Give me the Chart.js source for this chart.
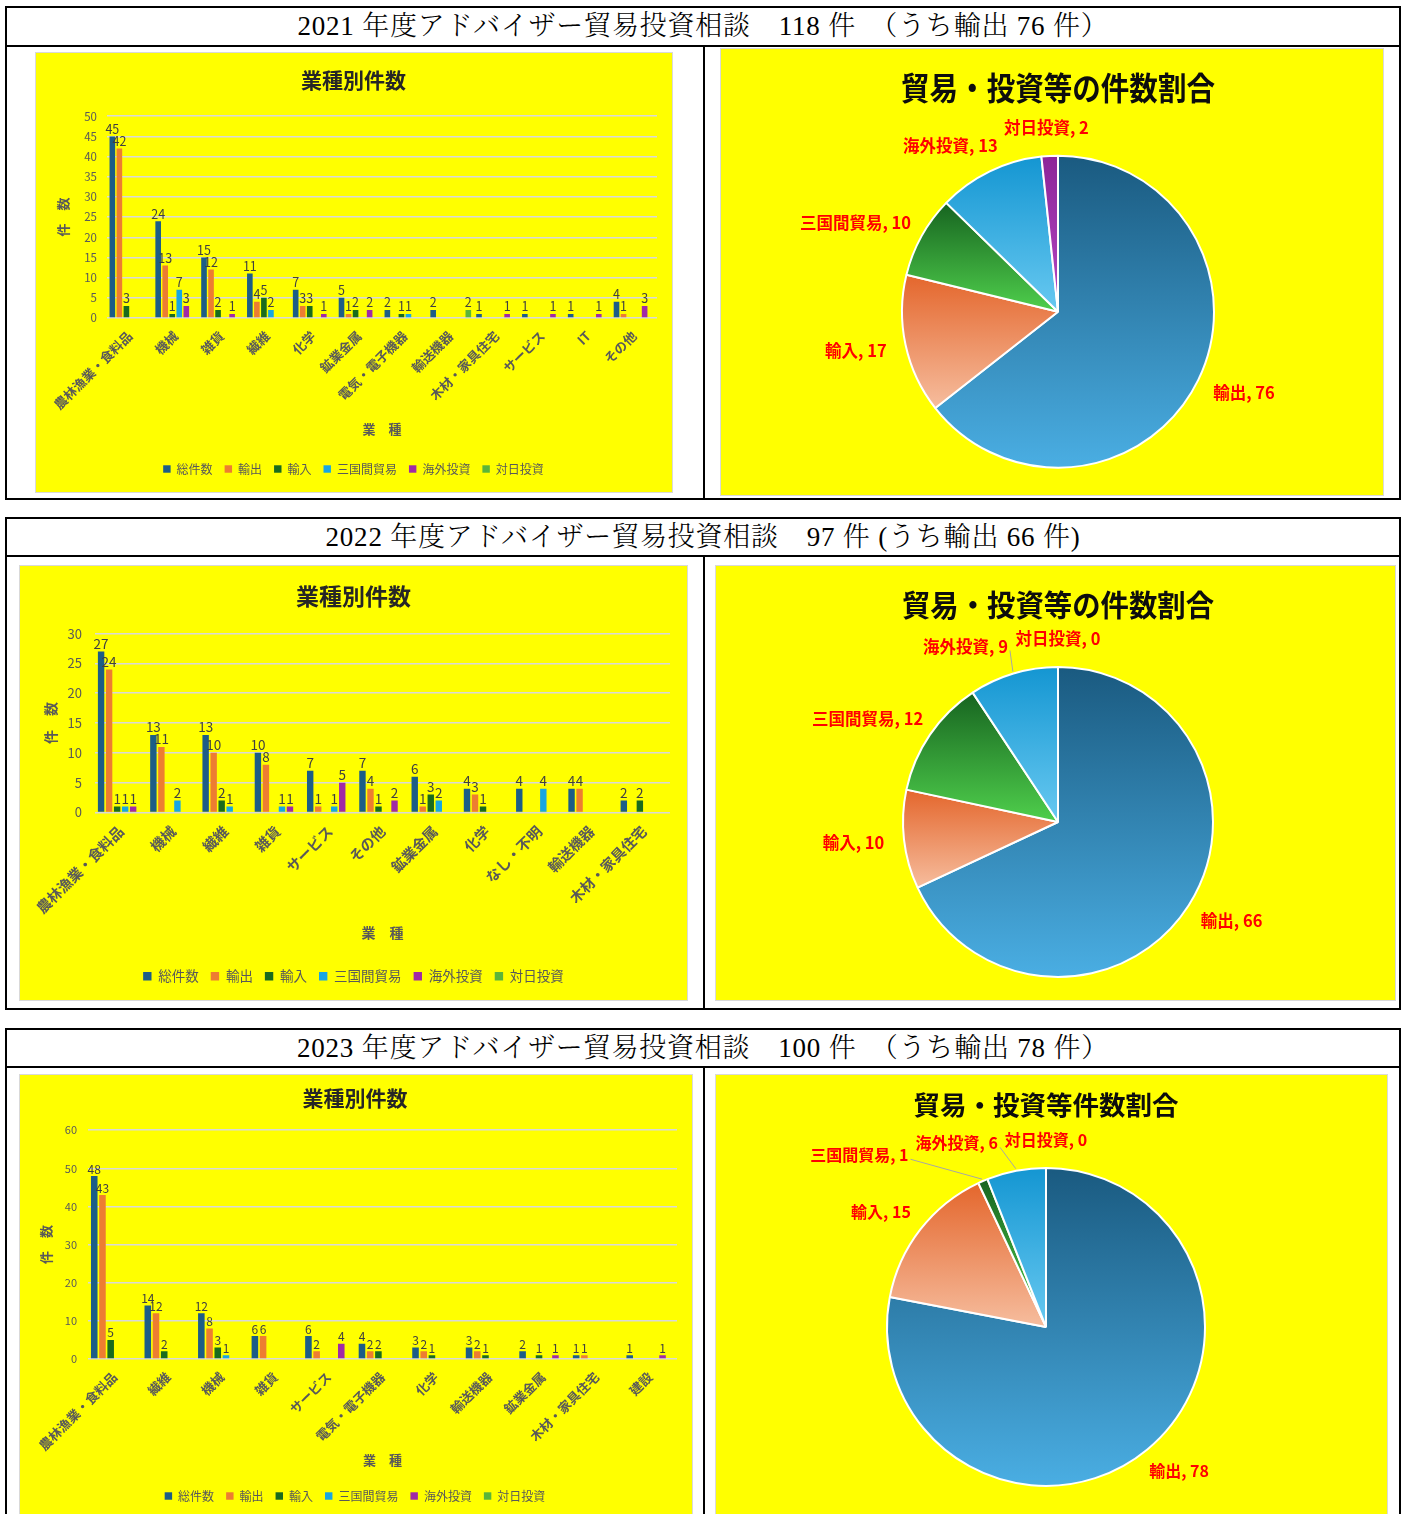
<!DOCTYPE html>
<html lang="ja">
<head>
<meta charset="utf-8">
<script src="https://cdn.jsdelivr.net/npm/chart.js@4.4.1/dist/chart.umd.min.js"></script>
<style>
  body { margin: 0; background: #fff; width: 1407px; height: 1514px; overflow: hidden; position: relative; }
  .frame { position: absolute; border: 2px solid #000; box-sizing: border-box; }
  .head { position: absolute; left: 0; right: 0; top: 0; border-bottom: 2px solid #000; text-align: center;
          font-family: "Liberation Serif", "Noto Serif CJK JP", "Noto Sans CJK JP", serif; font-weight: 300;
          font-size: 27px; letter-spacing: 0.8px; color: #000; }
  .divider { position: absolute; width: 2px; background: #000; }
  .panel { position: absolute; background: #ffff00; outline: 1px solid #d9d9d9; }
  .panel canvas { position: absolute; left: 0; top: 0; }
</style>
</head>
<body>

<div class="frame" style="left:5px;top:6px;width:1396px;height:494px">
  <div class="head" style="height:37px;line-height:37px">2021 年度アドバイザー貿易投資相談　118 件　（うち輸出 76 件）</div>
  <div class="divider" style="left:696px;top:37px;bottom:0"></div>
</div>
<div class="frame" style="left:5px;top:517px;width:1396px;height:493px">
  <div class="head" style="height:36px;line-height:36px">2022 年度アドバイザー貿易投資相談　97 件 (うち輸出 66 件)</div>
  <div class="divider" style="left:696px;top:36px;bottom:0"></div>
</div>
<div class="frame" style="left:5px;top:1028px;width:1396px;height:520px">
  <div class="head" style="height:36px;line-height:36px">2023 年度アドバイザー貿易投資相談　100 件　（うち輸出 78 件）</div>
  <div class="divider" style="left:696px;top:36px;bottom:0"></div>
</div>

<div class="panel" style="left:36px;top:53px;width:636px;height:439px"><canvas id="bar2021" width="636" height="439"></canvas></div>
<div class="panel" style="left:721px;top:49px;width:662px;height:446px"><canvas id="pie2021" width="662" height="446"></canvas></div>
<div class="panel" style="left:20px;top:566px;width:667px;height:434px"><canvas id="bar2022" width="667" height="434"></canvas></div>
<div class="panel" style="left:716px;top:566px;width:679px;height:434px"><canvas id="pie2022" width="679" height="434"></canvas></div>
<div class="panel" style="left:20px;top:1075px;width:672px;height:445px"><canvas id="bar2023" width="672" height="445"></canvas></div>
<div class="panel" style="left:716px;top:1075px;width:671px;height:445px"><canvas id="pie2023" width="671" height="445"></canvas></div>

<script>
const FONT = '"Noto Sans CJK JP", "Noto Sans", sans-serif';
Chart.defaults.font.family = FONT;

// series of the bar charts
const seriesNames = ['総件数', '輸出', '輸入', '三国間貿易', '海外投資', '対日投資'];
const seriesColors = ['#1c5d87', '#ed7d31', '#196b1e', '#17a6e2', '#a02aa6', '#5ab53a'];

// 2021
const cats2021 = ['農林漁業・食料品', '機械', '雑貨', '繊維', '化学', '鉱業金属', '電気・電子機器', '輸送機器', '木材・家具住宅', 'サービス', 'IT', 'その他'];
const total2021   = [45, 24, 15, 11, 7, 5, 2, 2, 1, 1, 1, 4];
const export2021  = [42, 13, 12, 4, 3, 1, 0, 0, 0, 0, 0, 1];
const import2021  = [3, 1, 2, 5, 3, 2, 1, 0, 0, 0, 0, 0];
const triang2021  = [0, 7, 0, 2, 0, 0, 1, 0, 0, 0, 0, 0];
const outward2021 = [0, 3, 1, 0, 1, 2, 0, 0, 1, 1, 1, 3];
const inward2021  = [0, 0, 0, 0, 0, 0, 0, 2, 0, 0, 0, 0];

// 2022
const cats2022 = ['農林漁業・食料品', '機械', '繊維', '雑貨', 'サービス', 'その他', '鉱業金属', '化学', 'なし・不明', '輸送機器', '木材・家具住宅'];
const total2022   = [27, 13, 13, 10, 7, 7, 6, 4, 4, 4, 2];
const export2022  = [24, 11, 10, 8, 1, 4, 1, 3, 0, 4, 0];
const import2022  = [1, 0, 2, 0, 0, 1, 3, 1, 0, 0, 2];
const triang2022  = [1, 2, 1, 1, 1, 0, 2, 0, 4, 0, 0];
const outward2022 = [1, 0, 0, 1, 5, 2, 0, 0, 0, 0, 0];
const inward2022  = [0, 0, 0, 0, 0, 0, 0, 0, 0, 0, 0];

// 2023
const cats2023 = ['農林漁業・食料品', '繊維', '機械', '雑貨', 'サービス', '電気・電子機器', '化学', '輸送機器', '鉱業金属', '木材・家具住宅', '建設'];
const total2023   = [48, 14, 12, 6, 6, 4, 3, 3, 2, 1, 1];
const export2023  = [43, 12, 8, 6, 2, 2, 2, 2, 0, 1, 0];
const import2023  = [5, 2, 3, 0, 0, 2, 1, 1, 1, 0, 0];
const triang2023  = [0, 0, 1, 0, 0, 0, 0, 0, 0, 0, 0];
const outward2023 = [0, 0, 0, 0, 4, 0, 0, 0, 1, 0, 1];
const inward2023  = [0, 0, 0, 0, 0, 0, 0, 0, 0, 0, 0];

// pies
const pieLabels = ['輸出', '輸入', '三国間貿易', '海外投資', '対日投資'];
const pie2021 = [76, 17, 10, 13, 2];
const pie2022 = [66, 10, 12, 9, 0];
const pie2023 = [78, 15, 1, 6, 0];
const pieGradients = [
  ['#1a5a80', '#4aaee3'],
  ['#e4662c', '#f6bd9e'],
  ['#176420', '#4fcf4c'],
  ['#1496d2', '#68c9f1'],
  ['#8c2598', '#b447c4']
];

// value labels above bars (no datalabels plugin offline)
const barValueLabels = {
  id: 'barValueLabels',
  afterDatasetsDraw(chart, args, opts) {
    const ctx = chart.ctx;
    ctx.save();
    ctx.font = opts.size + 'px ' + FONT;
    ctx.fillStyle = '#404040';
    ctx.textAlign = 'center';
    ctx.textBaseline = 'bottom';
    chart.data.datasets.forEach((ds, di) => {
      chart.getDatasetMeta(di).data.forEach((bar, i) => {
        if (!ds.data[i]) return;
        ctx.fillText(String(ds.data[i]), bar.x, bar.y - 1);
      });
    });
    ctx.restore();
  }
};

function sliceExtent(p) {
  const ys = [p.y, p.y + p.outerRadius * Math.sin(p.startAngle), p.y + p.outerRadius * Math.sin(p.endAngle)];
  for (let k = -3; k <= 4; k++) {
    const a = -Math.PI / 2 + k * Math.PI;
    if (a > p.startAngle && a < p.endAngle) ys.push(p.y + p.outerRadius * Math.sin(a));
  }
  return { top: Math.min(...ys), bottom: Math.max(...ys) };
}

// per-slice vertical gradient + outside labels
const pieDecor = {
  id: 'pieDecor',
  beforeDatasetsDraw(chart, args, opts) {
    const ctx = chart.ctx;
    chart.getDatasetMeta(0).data.forEach((arc, i) => {
      const p = arc.getProps(['x', 'y', 'startAngle', 'endAngle', 'outerRadius']);
      const e = sliceExtent(p);
      const g = ctx.createLinearGradient(0, e.top, 0, e.bottom + 0.01);
      g.addColorStop(0, pieGradients[i][0]);
      g.addColorStop(1, pieGradients[i][1]);
      arc.options.backgroundColor = g;
    });
  },
  afterDatasetsDraw(chart, args, opts) {
    const ctx = chart.ctx;
    const meta = chart.getDatasetMeta(0);
    const vals = chart.data.datasets[0].data;
    const h = opts.size;
    ctx.save();
    ctx.font = 'bold ' + opts.size + 'px ' + FONT;
    ctx.textAlign = 'center';
    ctx.textBaseline = 'middle';
    const placed = [];
    for (let i = meta.data.length - 1; i >= 0; i--) {
      const p = meta.data[i].getProps(['x', 'y', 'startAngle', 'endAngle', 'outerRadius']);
      const mid = (p.startAngle + p.endAngle) / 2;
      const dx = Math.cos(mid), dy = Math.sin(mid);
      const text = chart.data.labels[i] + ', ' + vals[i];
      const w = ctx.measureText(text).width;
      const ax = p.x + dx * (p.outerRadius + opts.gap), ay = p.y + dy * (p.outerRadius + opts.gap);
      let cx = ax + dx * w / 2;
      const cy = ay + dy * h / 2;
      const cx0 = cx;
      const step = dx < -0.01 ? -2 : 2;
      let guard = 0;
      while (placed.some(b => Math.abs(b.cx - cx) < (b.w + w) / 2 + 6 && Math.abs(b.cy - cy) < h + 4) && guard++ < 300) cx += step;
      placed.push({ cx, cy, w });
      if (Math.abs(cx - cx0) > 15) {
        const ex = p.x + dx * (p.outerRadius + 2), ey = p.y + dy * (p.outerRadius + 2);
        const sx = cx + (step < 0 ? w / 2 + 2 : -w / 2 - 2);
        ctx.strokeStyle = '#a6a6a6';
        ctx.lineWidth = 1;
        ctx.beginPath();
        ctx.moveTo(sx, cy + 4);
        ctx.lineTo(ex, ey);
        ctx.stroke();
      }
      ctx.fillStyle = '#ff0000';
      ctx.fillText(text, cx, cy);
    }
    ctx.restore();
  }
};

function barChart(id, cats, values, f) {
  new Chart(document.getElementById(id), {
    type: 'bar',
    data: {
      labels: cats,
      datasets: seriesNames.map((n, k) => ({
        label: n, data: values[k], backgroundColor: seriesColors[k],
        barPercentage: 0.8, categoryPercentage: 0.92
      }))
    },
    options: {
      responsive: false,
      animation: false,
      devicePixelRatio: 1,
      layout: { padding: { left: f.padLeft, right: f.padRight, top: 0, bottom: f.padBottom } },
      plugins: {
        title: { display: true, text: '業種別件数', color: '#262626',
                 font: { size: f.title, weight: 'bold' }, padding: { top: f.titleTop, bottom: f.titleBottom } },
        legend: { position: 'bottom',
                  labels: { boxWidth: f.legend * 0.62, boxHeight: f.legend * 0.62, color: '#595959',
                            font: { size: f.legend }, padding: 12 } },
        tooltip: { enabled: false },
        barValueLabels: { size: f.value }
      },
      scales: {
        x: {
          grid: { display: false }, border: { display: false },
          ticks: { color: '#595959', font: { size: f.tick, weight: 'bold' }, minRotation: 45, maxRotation: 45, autoSkip: false, padding: 2 },
          title: { display: true, text: '業　種', color: '#595959', font: { size: f.axisTitle, weight: 'bold' },
                   padding: { top: 0, bottom: f.xTitleBottom } },
          afterFit: s => { s.height = f.xHeight; }
        },
        y: {
          min: 0, max: f.max,
          ticks: { stepSize: f.step, color: '#595959', font: { size: f.ytick }, padding: f.ytickPad },
          grid: { color: '#d9d9d9', lineWidth: 1.5, drawTicks: false },
          border: { display: false },
          title: { display: true, text: '件　数', color: '#595959', font: { size: f.axisTitle, weight: 'bold' },
                   padding: { top: 5, bottom: 0 } },
          afterFit: s => { s.width = f.yWidth; }
        }
      }
    },
    plugins: [barValueLabels]
  });
}

function pieChart(id, title, values, f) {
  new Chart(document.getElementById(id), {
    type: 'pie',
    data: {
      labels: pieLabels,
      datasets: [{ data: values, backgroundColor: pieGradients.map(g => g[0]), borderColor: '#ffffff', borderWidth: 2 }]
    },
    options: {
      responsive: false,
      animation: false,
      devicePixelRatio: 1,
      layout: { padding: { left: f.padLeft, right: f.padRight, top: 0, bottom: f.padBottom } },
      plugins: {
        title: { display: true, text: title, color: '#0d0d0d', font: { size: f.title, weight: 'bold' },
                 padding: { top: f.titleTop, bottom: f.titleBottom } },
        legend: { display: false },
        tooltip: { enabled: false },
        pieDecor: { size: f.label, gap: 20 }
      }
    },
    plugins: [pieDecor]
  });
}

barChart('bar2021', cats2021, [total2021, export2021, import2021, triang2021, outward2021, inward2021], {
  max: 50, step: 5, title: 21, titleTop: 14, titleBottom: 24, tick: 13, ytick: 11.5, ytickPad: 10, value: 12.5,
  legend: 12, axisTitle: 13, yWidth: 57, padLeft: 14, padRight: 15, padBottom: 7, xHeight: 133, xTitleBottom: 14
});
barChart('bar2022', cats2022, [total2022, export2022, import2022, triang2022, outward2022, inward2022], {
  max: 30, step: 5, title: 23, titleTop: 16, titleBottom: 24, tick: 14.5, ytick: 13, ytickPad: 13, value: 13.5,
  legend: 13.5, axisTitle: 14, yWidth: 58, padLeft: 17, padRight: 17, padBottom: 7, xHeight: 145, xTitleBottom: 16
});
barChart('bar2023', cats2023, [total2023, export2023, import2023, triang2023, outward2023, inward2023], {
  max: 60, step: 10, title: 21, titleTop: 10, titleBottom: 20, tick: 13, ytick: 11, ytickPad: 11, value: 12,
  legend: 12, axisTitle: 13, yWidth: 55, padLeft: 13, padRight: 15, padBottom: 8, xHeight: 119, xTitleBottom: 10
});

pieChart('pie2021', '貿易・投資等の件数割合', pie2021, {
  title: 32, titleTop: 20, titleBottom: 47, label: 16.5, padLeft: 180, padRight: 168, padBottom: 26
});
pieChart('pie2022', '貿易・投資等の件数割合', pie2022, {
  title: 30, titleTop: 21, titleBottom: 43, label: 16.5, padLeft: 186, padRight: 181, padBottom: 22
});
pieChart('pie2023', '貿易・投資等件数割合', pie2023, {
  title: 26.5, titleTop: 14, titleBottom: 46, label: 16, padLeft: 170, padRight: 181, padBottom: 33
});
</script>
</body>
</html>
